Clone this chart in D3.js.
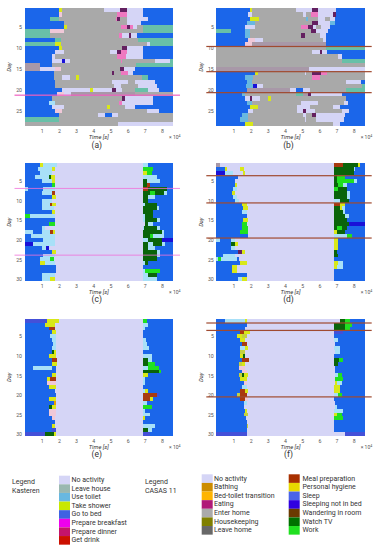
<!DOCTYPE html>
<html><head><meta charset="utf-8">
<script src="https://cdn.jsdelivr.net/npm/d3@7"></script>
<style>html,body{margin:0;padding:0;background:#fff}svg{display:block;font-family:Roboto,sans-serif}</style>
</head><body><svg id="c" width="377" height="550"></svg>
<script>
// Each row is one day: activity code + end time (x 10^4 s); the last segment runs to midnight.
const activityCodes = ["N","L","A","M","T","C","Y","B","Z","V","P","K","R","E","H","J","G","O","S","U"];
const activityColors = ["#d5d5f6","#a9a9a9","#68c0a8","#a898a8","#68b8e0","#a8e0f8","#d8e818","#1b66ea","#1a10d8","#4450d8","#ee78c0","#642060","#a83a10","#c80818","#0a640a","#20e020","#707070","#e8a000","#c4d040","#f0c8d8"];
const panelA = [
"B2.0 Y2.2 L4.6 N5.55 K5.95 N6.9 B","B2.0 U2.2 L5.4 P5.95 N6.9 B","B1.5 A2.0 L5.3 P5.4 K5.55 L5.95 N7.2 B","B2.27 L5.95 N6.8 B",
"B2.27 Y2.5 L5.6 P5.95 K6.15 P6.3 N6.55 L6.9 A","A1.5 U2.27 L6.9 A","A1.5 L5.5 P5.7 N6.1 K6.2 N6.55 B","B1.8 A2.1 L6.6 A",
"A1.8 Y2.1 L7.1 N7.3 A","B2.0 Y2.2 L5.66 K5.95 N6.9 B","B1.8 N2.27 Y2.3 L5.0 N5.4 K5.6 P5.95 N6.9 B","B1.6 N1.8 L5.4 P5.9 N6.9 B",
"B1.6 N2.2 Z2.35 N2.65 L5.6 P5.7 L7.6 N8.45 A","M0.9 B1.6 L6.5 A","M0.9 N1.8 U2.1 L5.55 K5.8 N6.45 B","B1.7 L5.08 K5.2 L5.6 P6.0 N6.3 B",
"B1.7 L2.2 N2.65 L3.0 Y3.15 L6.0 L6.85 A7.2 B","B1.8 L5.08 N6.0 L6.45 N7.6 B","B1.8 L5.2 N5.6 L6.6 N7.7 B","B2.2 N3.8 Y4.0 N5.1 K5.3 N5.66 L6.45 A7.2 N7.8 B",
"B1.9 U2.3 N2.7 M6.4 L","B1.6 L5.66 K5.85 N7.5 B","B1.4 C1.8 L5.5 P5.66 N7.5 B","B1.6 N2.27 L4.8 Y4.95 L5.85 N6.45 L6.45 B",
"B1.8 U2.2 L7.1 N7.8 B","B2.0 L4.3 N4.7 B5.08 N5.46 L","A2.0 L","L5.46 N"];
const panelB = [
"B1.95 Y2.1 L4.63 N5.55 K5.93 N6.94 B","B1.86 N2.05 L5.06 N5.25 L5.5 P5.93 N6.8 K6.94 B","B1.95 Y2.5 L5.25 T5.35 L5.9 N6.3 L6.6 N6.9 B","B1.76 T2.25 L5.6 K5.93 N6.6 T6.9 B",
"B1.66 N2.25 L4.96 P5.35 K5.64 N5.83 L6.1 N6.6 B","A0.83 B1.66 T1.95 L5.54 K5.8 N6.5 B","B1.66 T1.95 L4.96 K5.15 L6.03 N6.4 B","B1.86 U2.25 N2.7 L6.2 N6.4 B",
"B1.66 U2.05 M6.4 B","L6.4 A","L5.6 N6.05 K6.15 N6.45 B","L7.07 N7.3 B",
"L7.3 A","L","M5.4 N","B2.25 Y2.45 L5.15 N5.25 L5.55 K6.1 P6.45 L",
"B1.66 T2.15 L5.55 P6.03 L","B1.76 T2.05 L7.58 N8.4 B","B1.72 T2.15 Z2.35 N2.7 L8.5 A","B1.8 M4.3 N4.66 B5.05 N5.45 L7.58 A",
"B1.47 T1.66 L4.66 A5.05 M5.35 K5.5 N7.3 B","B1.66 N1.95 K2.1 N2.53 L3.03 Y3.17 L7.58 B","B1.76 T2.05 L4.96 N5.93 L7.45 N7.68 B","B1.95 Y2.45 L4.7 N5.44 L6.8 N7.2 B",
"B1.86 N2.15 L4.7 N5.05 K5.25 N5.75 L7.3 N7.73 B","B1.47 T1.86 L5.05 N5.2 L5.55 K5.8 N7.5 B","B1.37 T1.86 L5.15 N5.25 L5.83 N7.45 B","B1.66 Y2.15 L6.8 N7.2 B"];
const panelC = [
"B0.9 Y1.1 C1.9 N6.9 C7.2 B","B0.8 C1.6 Y1.8 N6.9 J7.5 B","B0.9 C1.6 N6.9 Y7.1 J7.4 B","B0.6 C1.4 H1.53 Y1.8 N6.9 C7.7 B","B1.0 C1.6 Y1.8 N6.9 H7.1 C7.9 B",
"B1.6 J1.8 N6.9 H7.1 R7.3 B","C0.2 B1.1 C1.8 N6.9 R7.2 H8.3 B","B1.0 C1.6 R1.8 N6.9 H7.3 J7.6 H8.1 C8.3 B","B1.6 Y1.85 N6.9 H7.2 C7.6 B","B1.0 C1.6 N6.9 H7.2 B",
"B1.0 C1.5 R1.6 Y1.85 N6.9 C7.0 H7.7 B","B1.0 C1.7 N6.9 H7.7 C7.8 B","B1.6 Y1.8 N6.9 H7.5 B","J0.3 C1.8 N6.9 C7.0 H7.5 B","B1.8 N6.9 C7.0 H7.7 C7.9 B",
"B1.4 J1.8 N7.0 H7.2 C7.5 B","B1.0 C1.2 N6.9 C6.95 H7.7 C7.9 B","C0.5 B1.0 C1.5 R1.65 Y1.8 N6.9 H8.0 C8.1 B","B0.4 C1.0 C1.8 N6.9 H7.3 J7.5 C8.1 B","B1.1 C1.8 N6.9 C7.2 H8.0 Z",
"Z0.5 C1.8 N6.9 H7.2 C7.5 H8.0 C8.2 B","B1.0 C1.25 Z1.4 N6.9 H7.2 C7.6 B","B1.6 Y1.85 N6.9 H7.7 C7.9 B","B1.1 C1.8 N6.9 H7.7 C7.9 B","B0.9 C1.5 J1.7 N6.9 H7.7 B",
"B0.9 Y1.2 C1.8 N6.9 C7.0 H7.2 B","B1.85 N6.9 B","B1.85 N6.9 C7.0 J7.9 B","B1.0 C1.8 N6.9 C7.2 H7.7 B","B1.0 C1.5 Y1.8 N6.9 C7.7 B"];
const panelD = [
"M0.2 N6.85 R7.4 H8.25 Y8.35 B","B0.5 Y0.6 N1.4 Y1.6 N6.85 H8.0 C8.1 B","Z0.5 C1.0 N1.57 Y1.66 N6.85 H8.0 B","B1.28 N6.85 H7.0 J7.5 B","B1.1 N6.85 H7.0 J8.0 C8.2 B",
"B1.1 Y1.2 N6.85 H7.1 J7.4 C7.6 B","B1.0 C1.2 N6.85 J7.1 H7.6 B","B0.9 Y1.1 N6.85 H7.6 C7.8 B","B1.0 C1.2 N6.85 H7.6 C7.8 B","B1.1 C1.3 N6.85 C7.2 H7.7 B",
"B1.5 Y1.76 N6.85 R7.2 Y7.5 B","B1.57 Y1.86 N6.85 H7.2 Y7.3 C7.5 B","B1.5 C1.76 N6.85 H7.4 C7.5 B","B1.76 N6.85 H7.5 C7.7 B","B1.57 Y1.86 N6.85 H7.6 B",
"B1.5 J1.76 N6.85 H7.7 Z","B1.5 J1.86 N6.85 H7.0 J7.3 H7.6 B","B1.4 J1.86 N6.85 Y7.0 H7.5 B","B1.86 N6.85 C7.6 J7.9 B","C0.2 B0.85 C1.1 N6.85 Y7.1 B",
"B0.85 H1.1 Y1.25 N6.85 Y7.1 B","B0.85 C1.1 N6.85 Y7.1 B","B1.28 K1.47 Y1.66 N6.85 H7.0 B","B0.4 C1.1 N6.85 H7.1 B","C0.1 J0.3 C1.2 B1.3 N6.85 B",
"B1.4 Y1.8 N6.85 Y7.1 C7.4 B","B0.9 Y1.2 N6.85 Y7.0 C7.4 B","B0.9 Y1.2 N6.85 B","B1.8 N6.85 B","B1.28 C1.47 Y1.76 N6.85 B"];
const panelE = [
"V1.3 Y2.0 N6.9 J7.1 B","B1.2 Y1.8 N6.9 C7.2 B","B1.4 R1.8 N6.9 C7.0 B","B1.6 Y1.84 N6.9 B","B1.5 C1.84 N6.9 B",
"B1.6 C1.84 N6.9 C7.05 B","B1.65 C1.84 N6.9 C7.1 B","B1.6 C1.84 N6.9 C7.25 B","B1.6 H1.7 Y1.84 N6.9 B","B1.4 Y1.84 N6.9 C7.4 B",
"B1.6 R1.9 N6.9 H7.2 C7.4 B","B1.6 Y1.9 N6.9 H7.2 J7.6 B","B0.5 C1.6 B1.84 N6.9 C7.2 J7.8 B","B1.84 N6.9 H7.8 J7.95 B","B1.6 Y1.84 N6.9 Y7.2 B",
"B1.3 Y1.5 R1.84 N6.9 C7.0 B","B1.3 U1.84 N6.9 C7.0 B","B1.4 Y1.84 N6.9 B","B1.8 N6.9 C7.0 Y7.2 B","B1.84 N6.9 R7.7 V7.8 B",
"B1.4 Y1.84 N6.9 R7.3 Y7.5 B","B1.7 O1.84 N6.9 C7.1 B","B1.4 H1.6 Y1.84 N6.9 J7.4 B","B1.4 U1.84 N6.9 C7.0 B","B1.4 U1.84 N6.9 C7.3 B",
"B1.6 U1.8 N6.9 Y7.0 B","B1.8 N6.9 B","B1.6 Y1.8 N6.9 C7.6 B","B1.6 V1.85 N6.9 H7.2 C7.4 B","V1.2 H1.7 Y1.85 N6.9 V7.3 B"];
const panelF = [
"B0.5 C1.65 Y1.8 N7.2 H7.5 J7.8 B","B1.8 N6.85 H7.5 J7.9 B","B1.7 N6.85 H7.5 J7.8 B","B1.4 R1.6 Y1.95 N6.85 V7.4 B","B1.2 Y1.5 S1.8 N6.85 B",
"B1.4 Y1.7 N6.85 C7.1 B","B1.5 R1.8 N6.9 B","B1.4 C1.7 Y1.85 N6.85 C7.2 B","B1.4 S1.7 N6.9 C7.2 B","B1.4 Y1.55 H1.65 N6.85 B",
"B1.5 R1.9 N6.85 H7.15 J7.4 B","B1.3 S1.5 Y1.7 N6.85 H7.1 B","B1.3 U1.7 N6.9 B","B1.5 U1.8 N6.9 B","B1.3 S1.5 H1.6 Y1.85 N6.9 C7.1 J7.3 B",
"B1.4 Y1.8 N6.9 J7.4 B","B1.6 U1.8 N6.9 Y7.0 C7.3 B","B1.5 C1.8 N6.85 Y7.2 B","B1.4 R1.7 Y1.85 N6.85 Y7.2 B","B1.2 S1.4 R1.8 N6.85 C7.1 J7.3 B",
"B1.4 R1.7 U1.85 N6.85 B","B1.6 C1.8 N6.9 B","B1.6 N6.9 C7.0 B","B1.7 Y1.8 N6.85 C7.4 B","B1.6 S1.85 N6.85 Y7.05 J7.3 B",
"B1.75 N6.85 J7.4 B","B1.8 N6.85 B","B1.8 S1.85 N6.85 B","B1.8 N6.85 B","V1.8 N7.5 V"];
const panelLabels = ["(a)","(b)","(c)","(d)","(e)","(f)"];
const dayCounts = [28,28,30,30,30,30];
const dayTicks = [[5,10,15,20,25],[5,10,15,20,25],[5,10,15,20,25,30],[5,10,15,20,25,30],[5,10,15,20,25,30],[5,10,15,20,25,30]];
const timeTicks = [1,2,3,4,5,6,7,8];
const alarmDays = [[21.2],[9.6,15.6,20.6],[6.88,23.9],[3.66,10.6,19.55],[],[1.6,3.5,20.5]];
const alarmColors = ["#f060c0","#a04a30","#f070d8","#a04a30","#000","#a04a30"];
const alarmWidths = [1.2,1.2,0.8,1.2,0,1.2];
const legendKasterenNames = ["No activity","Leave house","Use toilet","Take shower","Go to bed","Prepare breakfast","Prepare dinner","Get drink"];
const legendKasterenColors = ["#d5d5f6","#9ab8b0","#68b8e0","#c8e800","#3f62e2","#ee00ee","#c4146c","#cc1000"];
const legendCasasNames1 = ["No activity","Bathing","Bed-toilet transition","Eating","Enter home","Housekeeping","Leave home"];
const legendCasasColors1 = ["#d5d5f6","#cc8c00","#ffb400","#b01a78","#aaaaaa","#808000","#686868"];
const legendCasasNames2 = ["Meal preparation","Personal hygiene","Sleep","Sleeping not in bed","Wandering in room","Watch TV","Work"];
const legendCasasColors2 = ["#a83000","#e8d800","#4a64e8","#3000e0","#6a3a00","#007000","#20e020"];

const panelRows = [panelA,panelB,panelC,panelD,panelE,panelF];
const color = d3.scaleOrdinal(activityCodes, activityColors);
const svg = d3.select("#c");
const lefts = [24.5,216.3], rights = [173,364.7];
const tops = [8.3,163.3,318.7], bottoms = [125.8,281,436];
const labelY = [148,302,457];

panelRows.forEach((rows,i)=>{
  const col=i%2, row=Math.floor(i/2);
  const x=d3.scaleLinear().domain([0,8.64]).range([lefts[col],rights[col]]);
  const y=d3.scaleLinear().domain([0.5,dayCounts[i]+0.5]).range([tops[row],bottoms[row]]);
  const g=svg.append("g");
  rows.forEach((r,di)=>{
    let start=0;
    r.split(" ").forEach(s=>{
      const code=s[0], end=s.length>1?+s.slice(1):8.64;
      g.append("rect").attr("x",x(start)).attr("width",Math.max(0,x(end)-x(start)))
       .attr("y",y(di+0.5)).attr("height",y(di+1.5)-y(di+0.5))
       .attr("fill",color(code)).attr("shape-rendering","crispEdges");
      start=end;
    });
  });
  const bx=g.append("g").attr("transform",`translate(0,${bottoms[row]})`)
    .call(d3.axisBottom(x).tickValues(timeTicks).tickSize(0).tickPadding(3.5));
  const ly=g.append("g").attr("transform",`translate(${lefts[col]},0)`)
    .call(d3.axisLeft(y).tickValues(dayTicks[i]).tickSize(0).tickPadding(2.5));
  [bx,ly].forEach(a=>{a.select(".domain").remove();a.selectAll("text").attr("font-size",5.2).attr("font-family","Roboto,sans-serif").attr("fill","#555");});
  alarmDays[i].forEach(d=>{
    g.append("rect").attr("x",lefts[col]-10).attr("width",rights[col]-lefts[col]+17)
     .attr("y",y(d)-alarmWidths[i]/2).attr("height",alarmWidths[i]).attr("fill",alarmColors[i]);
  });
  const mid=(lefts[col]+rights[col])/2;
  g.append("text").attr("x",mid).attr("y",bottoms[row]+13).attr("text-anchor","middle").attr("font-size",5.8).attr("fill","#333").attr("font-style","italic").text("Time [s]");
  g.append("text").attr("x",rights[col]-4).attr("y",bottoms[row]+13).attr("font-size",5).attr("fill","#555").text("× 10");
  g.append("text").attr("x",rights[col]+5.5).attr("y",bottoms[row]+11).attr("font-size",3.5).attr("fill","#555").text("4");
  g.append("text").attr("transform",`translate(${lefts[col]-13.5},${(tops[row]+bottoms[row])/2}) rotate(-90)`)
    .attr("text-anchor","middle").attr("font-size",5.8).attr("font-style","italic").attr("fill","#333").text("Day");
  g.append("text").attr("x",mid-2).attr("y",labelY[row]).attr("text-anchor","middle").attr("font-size",8.5).attr("fill","#333").text(panelLabels[i]);
});

function legend(x,y0,names,colors,w,tx){
  names.forEach((n,i)=>{
    svg.append("rect").attr("x",x).attr("y",y0+i*8.62).attr("width",w).attr("height",8.62).attr("fill",colors[i]);
    svg.append("text").attr("x",tx).attr("y",y0+i*8.62+6.2).attr("font-size",7).attr("fill","#333").text(n);
  });
}
legend(59,475.7,legendKasterenNames,legendKasterenColors,11,71.5);
legend(201.7,474.3,legendCasasNames1,legendCasasColors1,11,214);
legend(288.7,474.3,legendCasasNames2,legendCasasColors2,11,302.5);
[["Legend",12,484],["Kasteren",12,492.5],["Legend",145,484],["CASAS 11",145,492.5]].forEach(t=>{
  svg.append("text").attr("x",t[1]).attr("y",t[2]).attr("font-size",7).attr("fill","#333").text(t[0]);
});
</script></body></html>
